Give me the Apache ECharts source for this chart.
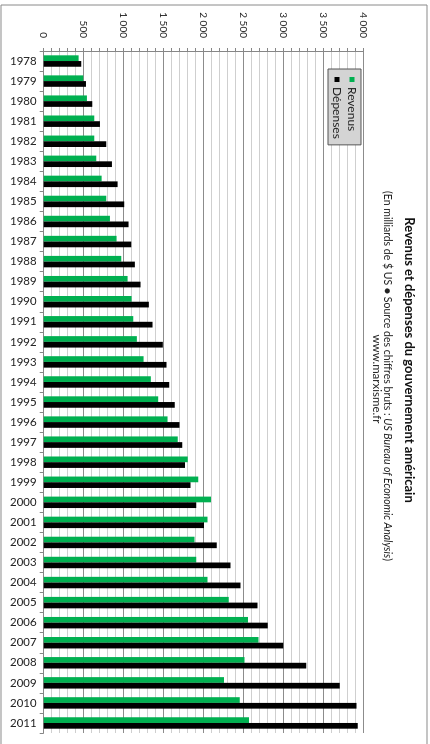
<!DOCTYPE html>
<html>
<head>
<meta charset="utf-8">
<script src="https://cdn.jsdelivr.net/npm/echarts@6/dist/echarts.min.js"></script>
<style>
html,body{margin:0;padding:0;width:430px;height:744px;overflow:hidden;background:#fff;}
#c{position:absolute;left:0;top:0;width:744px;height:430px;transform-origin:0 0;transform:translate(430px,0) rotate(90deg);}
</style>
</head>
<body>
<div id="c"></div>
<script>
const years = ['1978','1979','1980','1981','1982','1983','1984','1985','1986','1987','1988','1989','1990','1991','1992','1993','1994','1995','1996','1997','1998','1999','2000','2001','2002','2003','2004','2005','2006','2007','2008','2009','2010','2011'];
const revenus = [437,495,541,633,633,658,725,783,829,912,971,1050,1100,1121,1166,1250,1341,1433,1550,1679,1804,1933,2095,2050,1887,1908,2050,2316,2558,2687,2512,2258,2454,2570];
const depenses = [470,529,608,704,783,854,925,1008,1062,1096,1141,1212,1316,1362,1491,1537,1571,1641,1700,1734,1770,1837,1908,2007,2166,2337,2462,2675,2804,2999,3287,3704,3916,3929];
const valueTicks = ['0','500','1 000','1 500','2 000','2 500','3 000','3 500','4 000'];
const seriesNames = ['Revenus','Dépenses'];
const titleText = 'Revenus et dépenses du gouvernement américain';
const sub1a = '(En milliards de $ US \u25CF Source des chiffres bruts : ';
const sub1b = 'US Bureau of Economic Analysis';
const sub1c = ')';
const sub2 = 'www.marxisme.fr';

const FONT = 'Lato, "Open Sans", sans-serif';
const chart = echarts.init(document.getElementById('c'), null, {renderer:'canvas', width:744, height:430});
chart.setOption({
  animation:false,
  backgroundColor:'#fff',
  grid:{left:51, right:11, top:66.7, bottom:43.7},
  legend:{
    orient:'vertical', left:69, top:69,
    data:seriesNames,
    icon:'rect', itemWidth:5, itemHeight:5, itemGap:3,
    padding:[3,6,3,8],
    backgroundColor:'#d4d4d4', borderColor:'#555', borderWidth:1, borderRadius:0,
    textStyle:{fontFamily:FONT, fontSize:12, color:'#222'}
  },
  xAxis:{
    type:'category', data:years, position:'bottom',
    axisLine:{lineStyle:{color:'#868686'}},
    axisTick:{show:true, length:4, lineStyle:{color:'#868686'}},
    axisLabel:{rotate:90, margin:7, fontFamily:FONT, fontSize:11.5, color:'#222'},
    splitLine:{show:false}
  },
  yAxis:{
    type:'value', min:0, max:4000, interval:500, position:'left',
    axisLine:{show:true, lineStyle:{color:'#868686'}},
    axisTick:{show:true, length:3, lineStyle:{color:'#868686'}},
    minorTick:{show:true, splitNumber:5, length:3, lineStyle:{color:'#868686'}},
    axisLabel:{margin:13, fontFamily:FONT, fontSize:10, color:'#222',
      formatter:function(v){return valueTicks[Math.round(v/500)];}},
    splitLine:{show:true, lineStyle:{color:'#8c8c8c', width:1}},
    minorSplitLine:{show:true, lineStyle:{color:'#cfcfcf', width:1}}
  },
  series:[
    {name:seriesNames[0], type:'bar', data:revenus, itemStyle:{color:'#00B050'}, barGap:'0%', barCategoryGap:'43%'},
    {name:seriesNames[1], type:'bar', data:depenses, itemStyle:{color:'#000000'}, barGap:'0%', barCategoryGap:'43%'}
  ],
  graphic:[
    {type:'rect', silent:true, z:-1, shape:{x:5, y:3, width:800, height:426}, style:{fill:'none', stroke:'#8a8a8a', lineWidth:1}},
    {type:'text', x:360, y:21, style:{text:titleText, font:'bold 13px '+FONT, fill:'#111', textAlign:'center', textVerticalAlign:'middle'}},
    {type:'text', x:376, y:42.5, style:{
      text:'{n|'+sub1a+'}{i|'+sub1b+'}{n|'+sub1c+'}',
      textAlign:'center', textVerticalAlign:'middle', fill:'#222',
      rich:{n:{fontFamily:FONT, fontSize:10.5, lineHeight:10.5, fill:'#222'}, i:{fontFamily:FONT, fontSize:10.5, lineHeight:10.5, fontStyle:'italic', fill:'#222'}}
    }},
    {type:'text', x:379, y:53.5, style:{text:sub2, fontFamily:FONT, fontSize:11.5, lineHeight:11, fill:'#222', textAlign:'center', textVerticalAlign:'middle'}}
  ]
});
</script>
</body>
</html>
